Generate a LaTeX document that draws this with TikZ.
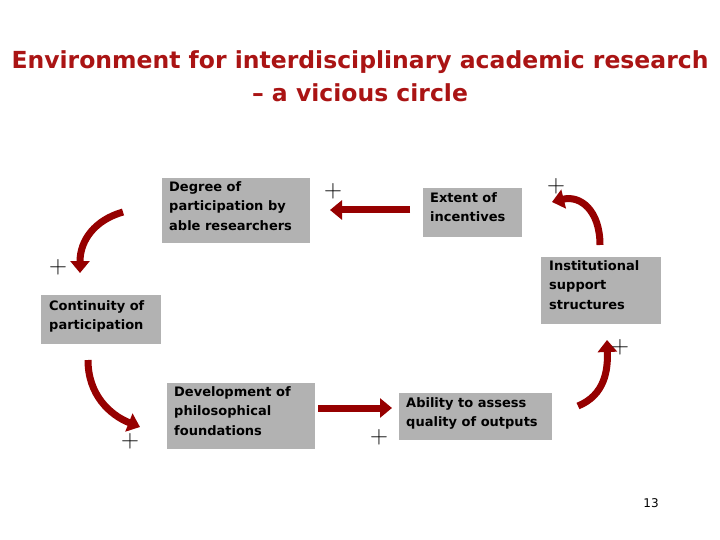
\documentclass[tikz,border=0pt]{standalone}
\usepackage{fontspec}
\setmainfont{DejaVu Sans}
\usetikzlibrary{arrows.meta}
\definecolor{dred}{RGB}{150,0,0}
\definecolor{ttl}{RGB}{170,20,20}
\definecolor{boxg}{RGB}{178,178,178}
\begin{document}
\begin{tikzpicture}[x=1pt,y=-1pt,
 box/.style={fill=boxg,anchor=north west,align=left,inner sep=0pt,font=\bfseries\fontsize{13}{19.5}\selectfont},
 barr/.style={draw=dred,line width=7pt,-{Triangle[width=19pt,length=12pt]},color=dred},
 plus/.style={font=\fontsize{24}{24}\selectfont,text=black}]
\useasboundingbox (0,0) rectangle (720,540);
\node[font=\bfseries\fontsize{23.5}{33}\selectfont,text=ttl,align=center] (title) at (360,76) {Environment for interdisciplinary academic research\\-- a vicious circle};
\fill[boxg] (162,178) rectangle (310,243);
\node[box] (deg) at (169,181) {Degree of\\participation by\\able researchers};
\fill[boxg] (423,188) rectangle (522,237);
\node[box] (ext) at (430,192) {Extent of\\incentives};
\fill[boxg] (541,257) rectangle (661,324);
\node[box] (ins) at (549,260) {Institutional\\support\\structures};
\fill[boxg] (41,295) rectangle (161,344);
\node[box] (con) at (49,300) {Continuity of\\participation};
\fill[boxg] (167,383) rectangle (315,449);
\node[box] (dev) at (174,386) {Development of\\philosophical\\foundations};
\fill[boxg] (399,393) rectangle (552,440);
\node[box] (abi) at (406,397) {Ability to assess\\quality of outputs};
\coordinate (a1) at (410,210); \coordinate (a2) at (330,210);
\draw[barr] (a1) -- (a2);
\coordinate (b1) at (600,245); \coordinate (b2) at (552,202);
\draw[barr] (b1) .. controls (600,210) and (580,195) .. (b2);
\coordinate (c1) at (578,406); \coordinate (c2) at (607,340);
\draw[barr] (c1) .. controls (605,395) and (608,370) .. (c2);
\coordinate (d1) at (318,408); \coordinate (d2) at (392,408);
\draw[barr] (d1) -- (d2);
\coordinate (e1) at (88,360); \coordinate (e2) at (140,427);
\draw[barr] (e1) .. controls (88,395) and (110,415) .. (e2);
\coordinate (f1) at (123,212); \coordinate (f2) at (80,273);
\draw[barr] (f1) .. controls (95,220) and (80,240) .. (f2);
\node[plus] (p1) at (333,191) {$+$};
\node[plus] (p2) at (556,186) {$+$};
\node[plus] (p3) at (620,347) {$+$};
\node[plus] (p4) at (379,437) {$+$};
\node[plus] (p5) at (130,441) {$+$};
\node[plus] (p6) at (58,267) {$+$};
\node[font=\fontsize{12}{12}\selectfont] (pg) at (651,503) {13};
\end{tikzpicture}
\end{document}
